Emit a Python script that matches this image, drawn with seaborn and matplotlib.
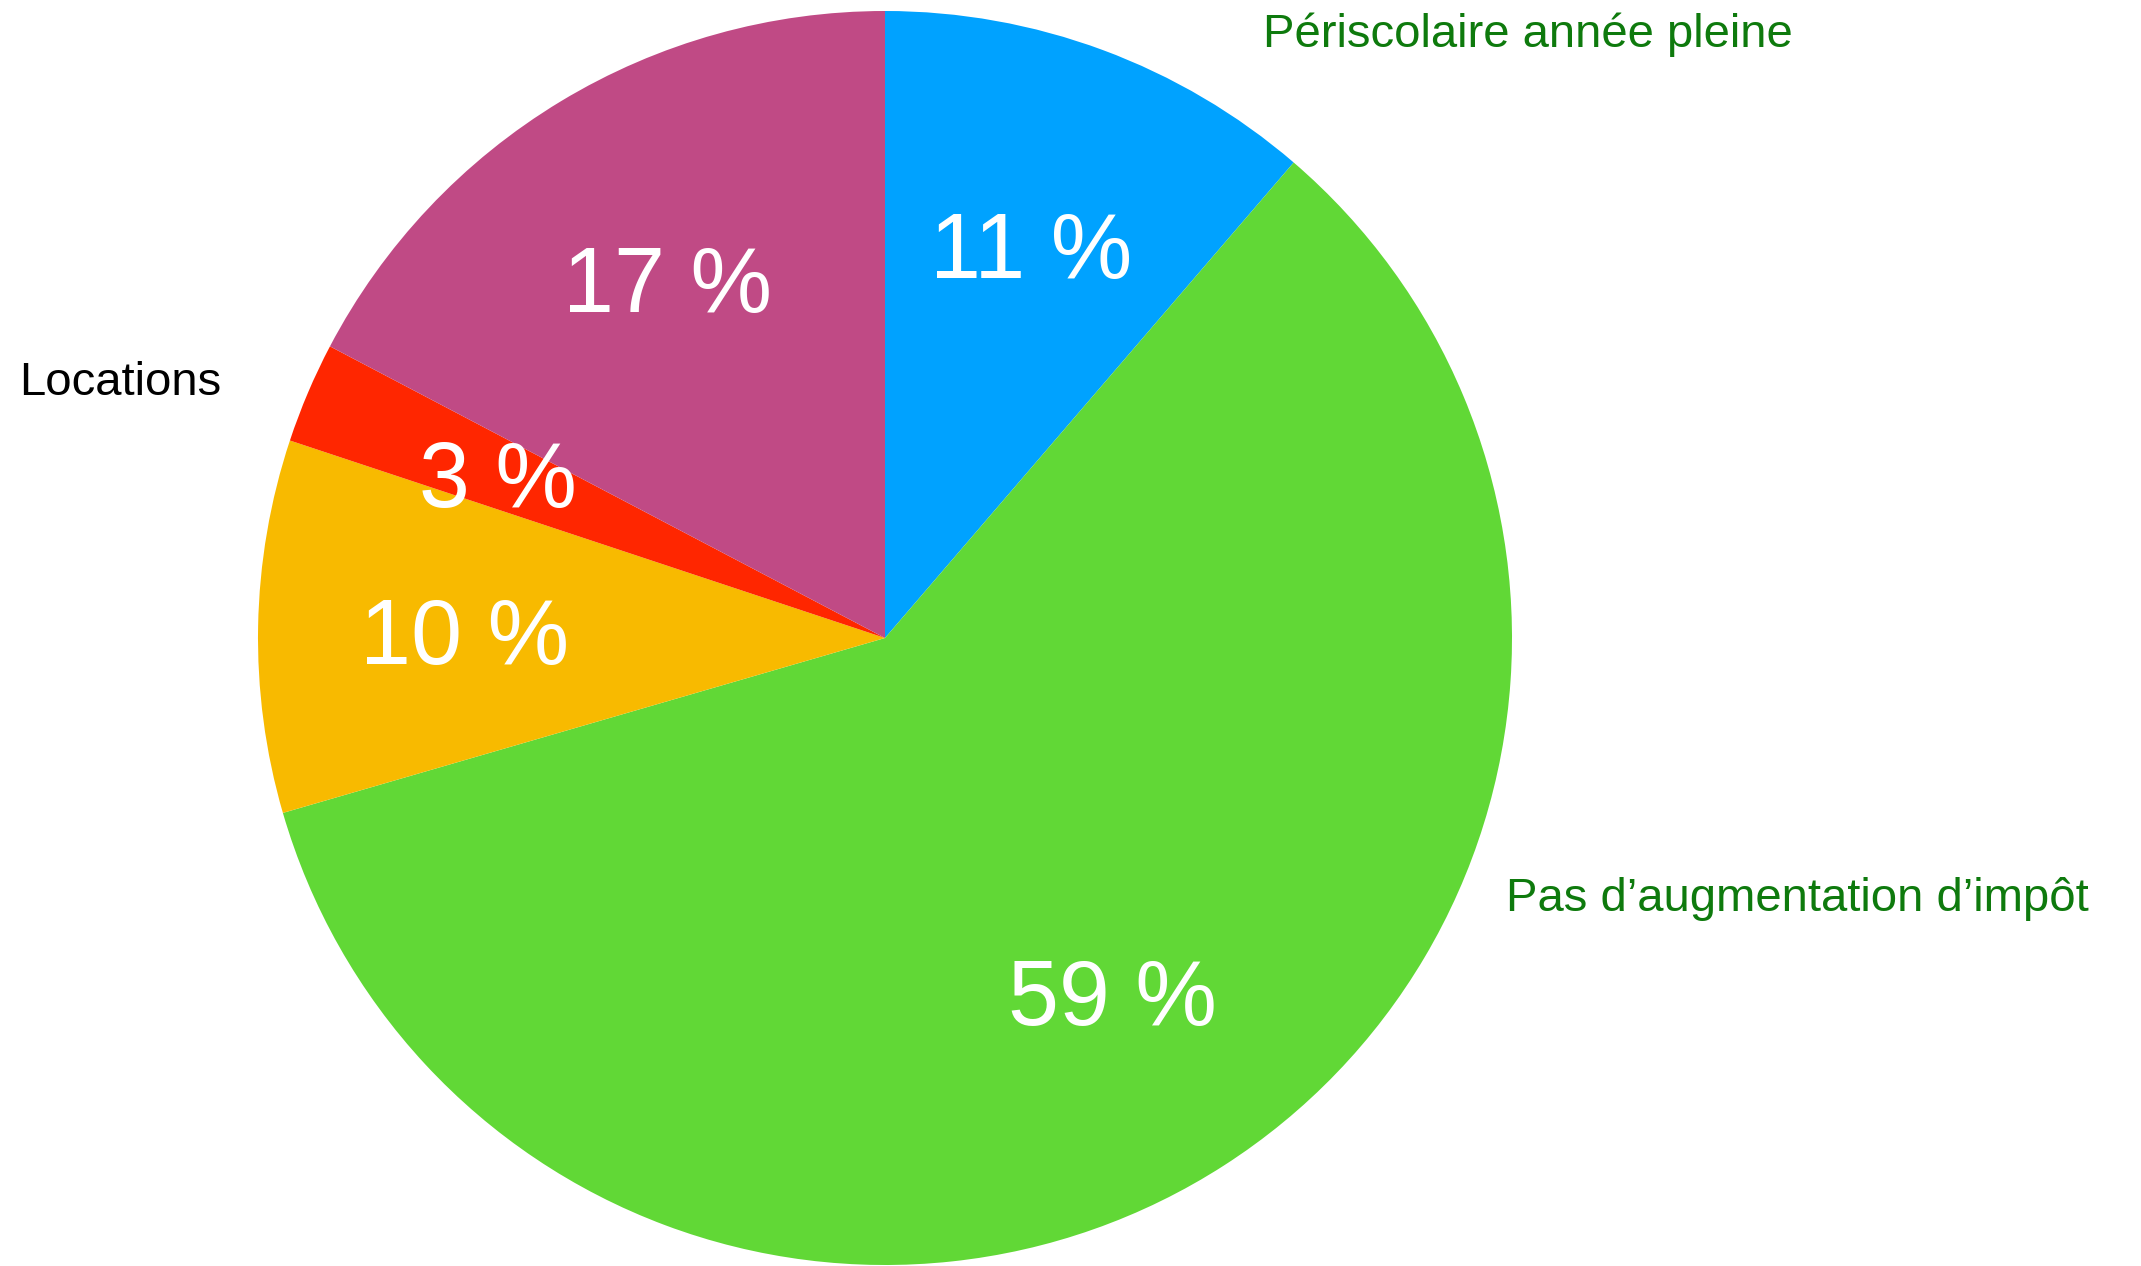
import matplotlib
matplotlib.use("Agg")
import matplotlib.pyplot as plt
import seaborn as sns

# Data
categories = ["Périscolaire année pleine", "Pas d’augmentation d’impôt", "", "Locations", ""]
values = [11.3, 59.2, 9.6, 2.6, 17.3]
colors = ["#00A2FF", "#61D836", "#F8BA00", "#FF2600", "#C04A85"]

sns.set_theme(style="white")
plt.rcParams['font.family'] = ['Liberation Sans', 'DejaVu Sans']

fig = plt.figure(figsize=(21.41, 12.66), dpi=100)
R = 627.0
cx, cy = 885.0, 638.0
W, H = 2141.0, 1266.0
ax = fig.add_axes([(cx - R) / W, (H - cy - R) / H, 2 * R / W, 2 * R / H])

wedges, texts, autotexts = ax.pie(
    values,
    colors=colors,
    startangle=90,
    counterclock=False,
    radius=1.0,
    autopct=lambda p: f"{p:.0f} %",
    pctdistance=0.67,
    wedgeprops=dict(linewidth=0),
    textprops=dict(color="white", fontsize=66),
)
for t in autotexts:
    t.set_va("center_baseline")

ax.set_xlim(-1, 1)
ax.set_ylim(-1, 1)
ax.set_aspect("equal")
ax.axis("off")

label_green = "#0E7A0D"
ax.text(0.603, 0.943, categories[0], color=label_green, fontsize=34, ha="left", va="baseline", clip_on=False)
ax.text(0.990, -0.435, categories[1], color=label_green, fontsize=34, ha="left", va="baseline", clip_on=False)
ax.text(-1.381, 0.388, categories[3], color="black", fontsize=34, ha="left", va="baseline", clip_on=False)

fig.savefig("out.png", dpi=100, facecolor="white")
